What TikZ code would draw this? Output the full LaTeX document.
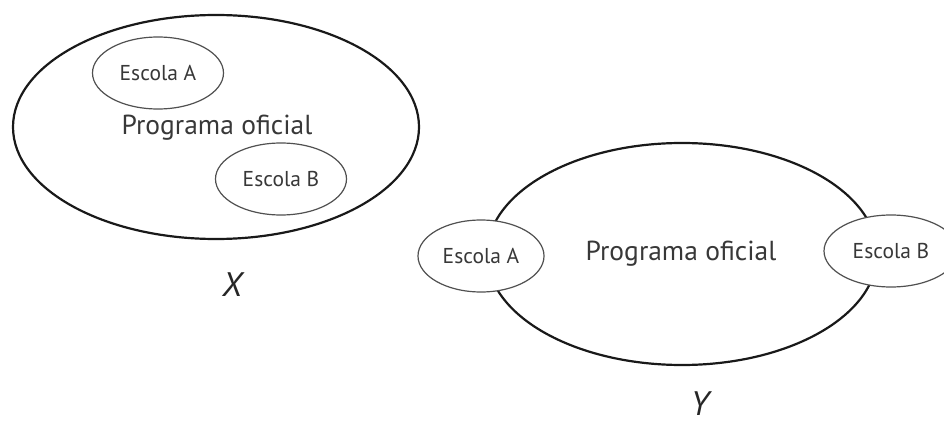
\documentclass[tikz,border=0pt]{standalone}
\usepackage{fontspec}
\setmainfont{PT Sans}
\usetikzlibrary{shapes.geometric}
\definecolor{textgray}{HTML}{383838}
\definecolor{linegray}{HTML}{505050}
\begin{document}
\begin{tikzpicture}[x=1pt,y=-1pt,
    bigell/.style={draw=black!90,line width=2.2pt,ellipse,inner sep=0pt},
    smallell/.style={draw=linegray,line width=1.2pt,ellipse,fill=white,inner sep=0pt,
        minimum width=131pt,minimum height=72pt,text=textgray,font=\fontsize{21.5}{24}\selectfont},
    maintext/.style={text=textgray,font=\fontsize{27.5}{30}\selectfont},
    caption/.style={text=black!85,inner sep=0pt,font=\fontsize{34}{38}\selectfont\itshape}]
    \useasboundingbox (0,0) rectangle (944,430);

    % figura X
    \node[bigell,minimum width=406pt,minimum height=224pt] (progX) at (216,127) {};
    \node[maintext] (txtX) at (217,128) {Programa oficial};
    \node[smallell] (escAX) at (158,73) {Escola A};
    \node[smallell] (escBX) at (281,179) {Escola B};
    \node[caption] (capX) at (232,285) {X};

    % figura Y
    \node[bigell,minimum width=390pt,minimum height=222pt] (progY) at (682,254) {};
    \node[maintext] (txtY) at (681,254) {Programa oficial};
    \node[smallell,minimum width=126pt] (escAY) at (481,256) {Escola A};
    \node[smallell,minimum width=134pt] (escBY) at (891,251) {Escola B};
    \node[caption] (capY) at (700,404) {Y};
\end{tikzpicture}
\end{document}
